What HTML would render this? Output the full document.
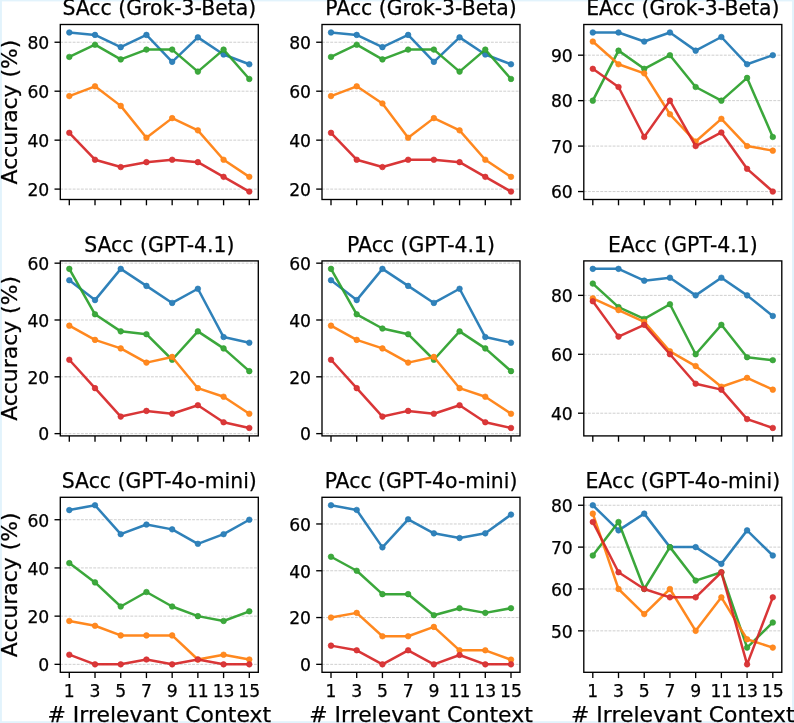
<!DOCTYPE html>
<html><head><meta charset="utf-8"><style>
html,body{margin:0;padding:0;background:#fff;width:794px;height:723px;overflow:hidden}
svg text{font-family:'DejaVu Sans', 'Liberation Sans', sans-serif;fill:#000;stroke:#000;stroke-width:0.25px}
</style></head><body>
<svg width="794" height="723" viewBox="0 0 794 723" style="position:absolute;left:0;top:0">
<rect width="794" height="723" fill="#fff"/>
<rect x="0" y="0" width="794" height="1.4" fill="#e2f3fc"/>
<rect x="0" y="0" width="1.9" height="723" fill="#e2f3fc"/>
<rect x="792" y="0" width="2" height="723" fill="#e2f3fc"/>
<rect x="0" y="721.2" width="794" height="1.8" fill="#e2f3fc"/>
<g><line x1="60.3" y1="189.1" x2="258.3" y2="189.1" stroke="#cfcfcf" stroke-width="1.0" stroke-dasharray="2.88 1.24"/><line x1="60.3" y1="140.15" x2="258.3" y2="140.15" stroke="#cfcfcf" stroke-width="1.0" stroke-dasharray="2.88 1.24"/><line x1="60.3" y1="91.2" x2="258.3" y2="91.2" stroke="#cfcfcf" stroke-width="1.0" stroke-dasharray="2.88 1.24"/><line x1="60.3" y1="42.24" x2="258.3" y2="42.24" stroke="#cfcfcf" stroke-width="1.0" stroke-dasharray="2.88 1.24"/><polyline points="69.3,32.45 95.01,34.9 120.73,47.14 146.44,34.9 172.16,61.83 197.87,37.35 223.59,54.48 249.3,64.27" fill="none" stroke="#1f77b4" stroke-opacity="0.93" stroke-width="2.5" stroke-linejoin="round" stroke-linecap="round"/><circle cx="69.3" cy="32.45" r="2.8000000000000003" fill="#3182ba" stroke="#1f77b4" stroke-width="0.6"/><circle cx="95.01" cy="34.9" r="2.8000000000000003" fill="#3182ba" stroke="#1f77b4" stroke-width="0.6"/><circle cx="120.73" cy="47.14" r="2.8000000000000003" fill="#3182ba" stroke="#1f77b4" stroke-width="0.6"/><circle cx="146.44" cy="34.9" r="2.8000000000000003" fill="#3182ba" stroke="#1f77b4" stroke-width="0.6"/><circle cx="172.16" cy="61.83" r="2.8000000000000003" fill="#3182ba" stroke="#1f77b4" stroke-width="0.6"/><circle cx="197.87" cy="37.35" r="2.8000000000000003" fill="#3182ba" stroke="#1f77b4" stroke-width="0.6"/><circle cx="223.59" cy="54.48" r="2.8000000000000003" fill="#3182ba" stroke="#1f77b4" stroke-width="0.6"/><circle cx="249.3" cy="64.27" r="2.8000000000000003" fill="#3182ba" stroke="#1f77b4" stroke-width="0.6"/><polyline points="69.3,56.93 95.01,44.69 120.73,59.38 146.44,49.59 172.16,49.59 197.87,71.62 223.59,49.59 249.3,78.96" fill="none" stroke="#2ca02c" stroke-opacity="0.93" stroke-width="2.5" stroke-linejoin="round" stroke-linecap="round"/><circle cx="69.3" cy="56.93" r="2.8000000000000003" fill="#3da83d" stroke="#2ca02c" stroke-width="0.6"/><circle cx="95.01" cy="44.69" r="2.8000000000000003" fill="#3da83d" stroke="#2ca02c" stroke-width="0.6"/><circle cx="120.73" cy="59.38" r="2.8000000000000003" fill="#3da83d" stroke="#2ca02c" stroke-width="0.6"/><circle cx="146.44" cy="49.59" r="2.8000000000000003" fill="#3da83d" stroke="#2ca02c" stroke-width="0.6"/><circle cx="172.16" cy="49.59" r="2.8000000000000003" fill="#3da83d" stroke="#2ca02c" stroke-width="0.6"/><circle cx="197.87" cy="71.62" r="2.8000000000000003" fill="#3da83d" stroke="#2ca02c" stroke-width="0.6"/><circle cx="223.59" cy="49.59" r="2.8000000000000003" fill="#3da83d" stroke="#2ca02c" stroke-width="0.6"/><circle cx="249.3" cy="78.96" r="2.8000000000000003" fill="#3da83d" stroke="#2ca02c" stroke-width="0.6"/><polyline points="69.3,96.09 95.01,86.3 120.73,105.88 146.44,137.7 172.16,118.12 197.87,130.36 223.59,159.73 249.3,176.86" fill="none" stroke="#ff7f0e" stroke-opacity="0.93" stroke-width="2.5" stroke-linejoin="round" stroke-linecap="round"/><circle cx="69.3" cy="96.09" r="2.8000000000000003" fill="#ff8921" stroke="#ff7f0e" stroke-width="0.6"/><circle cx="95.01" cy="86.3" r="2.8000000000000003" fill="#ff8921" stroke="#ff7f0e" stroke-width="0.6"/><circle cx="120.73" cy="105.88" r="2.8000000000000003" fill="#ff8921" stroke="#ff7f0e" stroke-width="0.6"/><circle cx="146.44" cy="137.7" r="2.8000000000000003" fill="#ff8921" stroke="#ff7f0e" stroke-width="0.6"/><circle cx="172.16" cy="118.12" r="2.8000000000000003" fill="#ff8921" stroke="#ff7f0e" stroke-width="0.6"/><circle cx="197.87" cy="130.36" r="2.8000000000000003" fill="#ff8921" stroke="#ff7f0e" stroke-width="0.6"/><circle cx="223.59" cy="159.73" r="2.8000000000000003" fill="#ff8921" stroke="#ff7f0e" stroke-width="0.6"/><circle cx="249.3" cy="176.86" r="2.8000000000000003" fill="#ff8921" stroke="#ff7f0e" stroke-width="0.6"/><polyline points="69.3,132.8 95.01,159.73 120.73,167.07 146.44,162.17 172.16,159.73 197.87,162.17 223.59,176.86 249.3,191.55" fill="none" stroke="#d62728" stroke-opacity="0.93" stroke-width="2.5" stroke-linejoin="round" stroke-linecap="round"/><circle cx="69.3" cy="132.8" r="2.8000000000000003" fill="#d93839" stroke="#d62728" stroke-width="0.6"/><circle cx="95.01" cy="159.73" r="2.8000000000000003" fill="#d93839" stroke="#d62728" stroke-width="0.6"/><circle cx="120.73" cy="167.07" r="2.8000000000000003" fill="#d93839" stroke="#d62728" stroke-width="0.6"/><circle cx="146.44" cy="162.17" r="2.8000000000000003" fill="#d93839" stroke="#d62728" stroke-width="0.6"/><circle cx="172.16" cy="159.73" r="2.8000000000000003" fill="#d93839" stroke="#d62728" stroke-width="0.6"/><circle cx="197.87" cy="162.17" r="2.8000000000000003" fill="#d93839" stroke="#d62728" stroke-width="0.6"/><circle cx="223.59" cy="176.86" r="2.8000000000000003" fill="#d93839" stroke="#d62728" stroke-width="0.6"/><circle cx="249.3" cy="191.55" r="2.8000000000000003" fill="#d93839" stroke="#d62728" stroke-width="0.6"/><rect x="60.3" y="24.5" width="198" height="175" fill="none" stroke="#000" stroke-width="1.35"/><line x1="54.5" y1="189.1" x2="60.3" y2="189.1" stroke="#000" stroke-width="1.35"/><text x="49.3" y="195.9" font-size="17.2" text-anchor="end">20</text><line x1="54.5" y1="140.15" x2="60.3" y2="140.15" stroke="#000" stroke-width="1.35"/><text x="49.3" y="146.95" font-size="17.2" text-anchor="end">40</text><line x1="54.5" y1="91.2" x2="60.3" y2="91.2" stroke="#000" stroke-width="1.35"/><text x="49.3" y="98" font-size="17.2" text-anchor="end">60</text><line x1="54.5" y1="42.24" x2="60.3" y2="42.24" stroke="#000" stroke-width="1.35"/><text x="49.3" y="49.04" font-size="17.2" text-anchor="end">80</text><line x1="69.3" y1="199.5" x2="69.3" y2="205.3" stroke="#000" stroke-width="1.35"/><line x1="95.01" y1="199.5" x2="95.01" y2="205.3" stroke="#000" stroke-width="1.35"/><line x1="120.73" y1="199.5" x2="120.73" y2="205.3" stroke="#000" stroke-width="1.35"/><line x1="146.44" y1="199.5" x2="146.44" y2="205.3" stroke="#000" stroke-width="1.35"/><line x1="172.16" y1="199.5" x2="172.16" y2="205.3" stroke="#000" stroke-width="1.35"/><line x1="197.87" y1="199.5" x2="197.87" y2="205.3" stroke="#000" stroke-width="1.35"/><line x1="223.59" y1="199.5" x2="223.59" y2="205.3" stroke="#000" stroke-width="1.35"/><line x1="249.3" y1="199.5" x2="249.3" y2="205.3" stroke="#000" stroke-width="1.35"/><text x="159.3" y="15.4" font-size="20.4" text-anchor="middle">SAcc (Grok-3-Beta)</text><text transform="translate(16.8,112) rotate(-90)" x="0" y="0" font-size="21.9" text-anchor="middle">Accuracy (%)</text></g>
<g><line x1="322" y1="189.1" x2="520" y2="189.1" stroke="#cfcfcf" stroke-width="1.0" stroke-dasharray="2.88 1.24"/><line x1="322" y1="140.15" x2="520" y2="140.15" stroke="#cfcfcf" stroke-width="1.0" stroke-dasharray="2.88 1.24"/><line x1="322" y1="91.2" x2="520" y2="91.2" stroke="#cfcfcf" stroke-width="1.0" stroke-dasharray="2.88 1.24"/><line x1="322" y1="42.24" x2="520" y2="42.24" stroke="#cfcfcf" stroke-width="1.0" stroke-dasharray="2.88 1.24"/><polyline points="331,32.45 356.71,34.9 382.43,47.14 408.14,34.9 433.86,61.83 459.57,37.35 485.29,54.48 511,64.27" fill="none" stroke="#1f77b4" stroke-opacity="0.93" stroke-width="2.5" stroke-linejoin="round" stroke-linecap="round"/><circle cx="331" cy="32.45" r="2.8000000000000003" fill="#3182ba" stroke="#1f77b4" stroke-width="0.6"/><circle cx="356.71" cy="34.9" r="2.8000000000000003" fill="#3182ba" stroke="#1f77b4" stroke-width="0.6"/><circle cx="382.43" cy="47.14" r="2.8000000000000003" fill="#3182ba" stroke="#1f77b4" stroke-width="0.6"/><circle cx="408.14" cy="34.9" r="2.8000000000000003" fill="#3182ba" stroke="#1f77b4" stroke-width="0.6"/><circle cx="433.86" cy="61.83" r="2.8000000000000003" fill="#3182ba" stroke="#1f77b4" stroke-width="0.6"/><circle cx="459.57" cy="37.35" r="2.8000000000000003" fill="#3182ba" stroke="#1f77b4" stroke-width="0.6"/><circle cx="485.29" cy="54.48" r="2.8000000000000003" fill="#3182ba" stroke="#1f77b4" stroke-width="0.6"/><circle cx="511" cy="64.27" r="2.8000000000000003" fill="#3182ba" stroke="#1f77b4" stroke-width="0.6"/><polyline points="331,56.93 356.71,44.69 382.43,59.38 408.14,49.59 433.86,49.59 459.57,71.62 485.29,49.59 511,78.96" fill="none" stroke="#2ca02c" stroke-opacity="0.93" stroke-width="2.5" stroke-linejoin="round" stroke-linecap="round"/><circle cx="331" cy="56.93" r="2.8000000000000003" fill="#3da83d" stroke="#2ca02c" stroke-width="0.6"/><circle cx="356.71" cy="44.69" r="2.8000000000000003" fill="#3da83d" stroke="#2ca02c" stroke-width="0.6"/><circle cx="382.43" cy="59.38" r="2.8000000000000003" fill="#3da83d" stroke="#2ca02c" stroke-width="0.6"/><circle cx="408.14" cy="49.59" r="2.8000000000000003" fill="#3da83d" stroke="#2ca02c" stroke-width="0.6"/><circle cx="433.86" cy="49.59" r="2.8000000000000003" fill="#3da83d" stroke="#2ca02c" stroke-width="0.6"/><circle cx="459.57" cy="71.62" r="2.8000000000000003" fill="#3da83d" stroke="#2ca02c" stroke-width="0.6"/><circle cx="485.29" cy="49.59" r="2.8000000000000003" fill="#3da83d" stroke="#2ca02c" stroke-width="0.6"/><circle cx="511" cy="78.96" r="2.8000000000000003" fill="#3da83d" stroke="#2ca02c" stroke-width="0.6"/><polyline points="331,96.09 356.71,86.3 382.43,103.43 408.14,137.7 433.86,118.12 459.57,130.36 485.29,159.73 511,176.86" fill="none" stroke="#ff7f0e" stroke-opacity="0.93" stroke-width="2.5" stroke-linejoin="round" stroke-linecap="round"/><circle cx="331" cy="96.09" r="2.8000000000000003" fill="#ff8921" stroke="#ff7f0e" stroke-width="0.6"/><circle cx="356.71" cy="86.3" r="2.8000000000000003" fill="#ff8921" stroke="#ff7f0e" stroke-width="0.6"/><circle cx="382.43" cy="103.43" r="2.8000000000000003" fill="#ff8921" stroke="#ff7f0e" stroke-width="0.6"/><circle cx="408.14" cy="137.7" r="2.8000000000000003" fill="#ff8921" stroke="#ff7f0e" stroke-width="0.6"/><circle cx="433.86" cy="118.12" r="2.8000000000000003" fill="#ff8921" stroke="#ff7f0e" stroke-width="0.6"/><circle cx="459.57" cy="130.36" r="2.8000000000000003" fill="#ff8921" stroke="#ff7f0e" stroke-width="0.6"/><circle cx="485.29" cy="159.73" r="2.8000000000000003" fill="#ff8921" stroke="#ff7f0e" stroke-width="0.6"/><circle cx="511" cy="176.86" r="2.8000000000000003" fill="#ff8921" stroke="#ff7f0e" stroke-width="0.6"/><polyline points="331,132.8 356.71,159.73 382.43,167.07 408.14,159.73 433.86,159.73 459.57,162.17 485.29,176.86 511,191.55" fill="none" stroke="#d62728" stroke-opacity="0.93" stroke-width="2.5" stroke-linejoin="round" stroke-linecap="round"/><circle cx="331" cy="132.8" r="2.8000000000000003" fill="#d93839" stroke="#d62728" stroke-width="0.6"/><circle cx="356.71" cy="159.73" r="2.8000000000000003" fill="#d93839" stroke="#d62728" stroke-width="0.6"/><circle cx="382.43" cy="167.07" r="2.8000000000000003" fill="#d93839" stroke="#d62728" stroke-width="0.6"/><circle cx="408.14" cy="159.73" r="2.8000000000000003" fill="#d93839" stroke="#d62728" stroke-width="0.6"/><circle cx="433.86" cy="159.73" r="2.8000000000000003" fill="#d93839" stroke="#d62728" stroke-width="0.6"/><circle cx="459.57" cy="162.17" r="2.8000000000000003" fill="#d93839" stroke="#d62728" stroke-width="0.6"/><circle cx="485.29" cy="176.86" r="2.8000000000000003" fill="#d93839" stroke="#d62728" stroke-width="0.6"/><circle cx="511" cy="191.55" r="2.8000000000000003" fill="#d93839" stroke="#d62728" stroke-width="0.6"/><rect x="322" y="24.5" width="198" height="175" fill="none" stroke="#000" stroke-width="1.35"/><line x1="316.2" y1="189.1" x2="322" y2="189.1" stroke="#000" stroke-width="1.35"/><text x="311" y="195.9" font-size="17.2" text-anchor="end">20</text><line x1="316.2" y1="140.15" x2="322" y2="140.15" stroke="#000" stroke-width="1.35"/><text x="311" y="146.95" font-size="17.2" text-anchor="end">40</text><line x1="316.2" y1="91.2" x2="322" y2="91.2" stroke="#000" stroke-width="1.35"/><text x="311" y="98" font-size="17.2" text-anchor="end">60</text><line x1="316.2" y1="42.24" x2="322" y2="42.24" stroke="#000" stroke-width="1.35"/><text x="311" y="49.04" font-size="17.2" text-anchor="end">80</text><line x1="331" y1="199.5" x2="331" y2="205.3" stroke="#000" stroke-width="1.35"/><line x1="356.71" y1="199.5" x2="356.71" y2="205.3" stroke="#000" stroke-width="1.35"/><line x1="382.43" y1="199.5" x2="382.43" y2="205.3" stroke="#000" stroke-width="1.35"/><line x1="408.14" y1="199.5" x2="408.14" y2="205.3" stroke="#000" stroke-width="1.35"/><line x1="433.86" y1="199.5" x2="433.86" y2="205.3" stroke="#000" stroke-width="1.35"/><line x1="459.57" y1="199.5" x2="459.57" y2="205.3" stroke="#000" stroke-width="1.35"/><line x1="485.29" y1="199.5" x2="485.29" y2="205.3" stroke="#000" stroke-width="1.35"/><line x1="511" y1="199.5" x2="511" y2="205.3" stroke="#000" stroke-width="1.35"/><text x="421" y="15.4" font-size="20.4" text-anchor="middle">PAcc (Grok-3-Beta)</text></g>
<g><line x1="583.8" y1="191.55" x2="781.8" y2="191.55" stroke="#cfcfcf" stroke-width="1.0" stroke-dasharray="2.88 1.24"/><line x1="583.8" y1="146.09" x2="781.8" y2="146.09" stroke="#cfcfcf" stroke-width="1.0" stroke-dasharray="2.88 1.24"/><line x1="583.8" y1="100.64" x2="781.8" y2="100.64" stroke="#cfcfcf" stroke-width="1.0" stroke-dasharray="2.88 1.24"/><line x1="583.8" y1="55.18" x2="781.8" y2="55.18" stroke="#cfcfcf" stroke-width="1.0" stroke-dasharray="2.88 1.24"/><polyline points="592.8,32.45 618.51,32.45 644.23,41.55 669.94,32.45 695.66,50.64 721.37,37 747.09,64.27 772.8,55.18" fill="none" stroke="#1f77b4" stroke-opacity="0.93" stroke-width="2.5" stroke-linejoin="round" stroke-linecap="round"/><circle cx="592.8" cy="32.45" r="2.8000000000000003" fill="#3182ba" stroke="#1f77b4" stroke-width="0.6"/><circle cx="618.51" cy="32.45" r="2.8000000000000003" fill="#3182ba" stroke="#1f77b4" stroke-width="0.6"/><circle cx="644.23" cy="41.55" r="2.8000000000000003" fill="#3182ba" stroke="#1f77b4" stroke-width="0.6"/><circle cx="669.94" cy="32.45" r="2.8000000000000003" fill="#3182ba" stroke="#1f77b4" stroke-width="0.6"/><circle cx="695.66" cy="50.64" r="2.8000000000000003" fill="#3182ba" stroke="#1f77b4" stroke-width="0.6"/><circle cx="721.37" cy="37" r="2.8000000000000003" fill="#3182ba" stroke="#1f77b4" stroke-width="0.6"/><circle cx="747.09" cy="64.27" r="2.8000000000000003" fill="#3182ba" stroke="#1f77b4" stroke-width="0.6"/><circle cx="772.8" cy="55.18" r="2.8000000000000003" fill="#3182ba" stroke="#1f77b4" stroke-width="0.6"/><polyline points="592.8,100.64 618.51,50.64 644.23,68.82 669.94,55.18 695.66,87 721.37,100.64 747.09,77.91 772.8,137" fill="none" stroke="#2ca02c" stroke-opacity="0.93" stroke-width="2.5" stroke-linejoin="round" stroke-linecap="round"/><circle cx="592.8" cy="100.64" r="2.8000000000000003" fill="#3da83d" stroke="#2ca02c" stroke-width="0.6"/><circle cx="618.51" cy="50.64" r="2.8000000000000003" fill="#3da83d" stroke="#2ca02c" stroke-width="0.6"/><circle cx="644.23" cy="68.82" r="2.8000000000000003" fill="#3da83d" stroke="#2ca02c" stroke-width="0.6"/><circle cx="669.94" cy="55.18" r="2.8000000000000003" fill="#3da83d" stroke="#2ca02c" stroke-width="0.6"/><circle cx="695.66" cy="87" r="2.8000000000000003" fill="#3da83d" stroke="#2ca02c" stroke-width="0.6"/><circle cx="721.37" cy="100.64" r="2.8000000000000003" fill="#3da83d" stroke="#2ca02c" stroke-width="0.6"/><circle cx="747.09" cy="77.91" r="2.8000000000000003" fill="#3da83d" stroke="#2ca02c" stroke-width="0.6"/><circle cx="772.8" cy="137" r="2.8000000000000003" fill="#3da83d" stroke="#2ca02c" stroke-width="0.6"/><polyline points="592.8,41.55 618.51,64.27 644.23,73.36 669.94,114.27 695.66,141.55 721.37,118.82 747.09,146.09 772.8,150.64" fill="none" stroke="#ff7f0e" stroke-opacity="0.93" stroke-width="2.5" stroke-linejoin="round" stroke-linecap="round"/><circle cx="592.8" cy="41.55" r="2.8000000000000003" fill="#ff8921" stroke="#ff7f0e" stroke-width="0.6"/><circle cx="618.51" cy="64.27" r="2.8000000000000003" fill="#ff8921" stroke="#ff7f0e" stroke-width="0.6"/><circle cx="644.23" cy="73.36" r="2.8000000000000003" fill="#ff8921" stroke="#ff7f0e" stroke-width="0.6"/><circle cx="669.94" cy="114.27" r="2.8000000000000003" fill="#ff8921" stroke="#ff7f0e" stroke-width="0.6"/><circle cx="695.66" cy="141.55" r="2.8000000000000003" fill="#ff8921" stroke="#ff7f0e" stroke-width="0.6"/><circle cx="721.37" cy="118.82" r="2.8000000000000003" fill="#ff8921" stroke="#ff7f0e" stroke-width="0.6"/><circle cx="747.09" cy="146.09" r="2.8000000000000003" fill="#ff8921" stroke="#ff7f0e" stroke-width="0.6"/><circle cx="772.8" cy="150.64" r="2.8000000000000003" fill="#ff8921" stroke="#ff7f0e" stroke-width="0.6"/><polyline points="592.8,68.82 618.51,87 644.23,137 669.94,100.64 695.66,146.09 721.37,132.45 747.09,168.82 772.8,191.55" fill="none" stroke="#d62728" stroke-opacity="0.93" stroke-width="2.5" stroke-linejoin="round" stroke-linecap="round"/><circle cx="592.8" cy="68.82" r="2.8000000000000003" fill="#d93839" stroke="#d62728" stroke-width="0.6"/><circle cx="618.51" cy="87" r="2.8000000000000003" fill="#d93839" stroke="#d62728" stroke-width="0.6"/><circle cx="644.23" cy="137" r="2.8000000000000003" fill="#d93839" stroke="#d62728" stroke-width="0.6"/><circle cx="669.94" cy="100.64" r="2.8000000000000003" fill="#d93839" stroke="#d62728" stroke-width="0.6"/><circle cx="695.66" cy="146.09" r="2.8000000000000003" fill="#d93839" stroke="#d62728" stroke-width="0.6"/><circle cx="721.37" cy="132.45" r="2.8000000000000003" fill="#d93839" stroke="#d62728" stroke-width="0.6"/><circle cx="747.09" cy="168.82" r="2.8000000000000003" fill="#d93839" stroke="#d62728" stroke-width="0.6"/><circle cx="772.8" cy="191.55" r="2.8000000000000003" fill="#d93839" stroke="#d62728" stroke-width="0.6"/><rect x="583.8" y="24.5" width="198" height="175" fill="none" stroke="#000" stroke-width="1.35"/><line x1="578" y1="191.55" x2="583.8" y2="191.55" stroke="#000" stroke-width="1.35"/><text x="572.8" y="198.35" font-size="17.2" text-anchor="end">60</text><line x1="578" y1="146.09" x2="583.8" y2="146.09" stroke="#000" stroke-width="1.35"/><text x="572.8" y="152.89" font-size="17.2" text-anchor="end">70</text><line x1="578" y1="100.64" x2="583.8" y2="100.64" stroke="#000" stroke-width="1.35"/><text x="572.8" y="107.44" font-size="17.2" text-anchor="end">80</text><line x1="578" y1="55.18" x2="583.8" y2="55.18" stroke="#000" stroke-width="1.35"/><text x="572.8" y="61.98" font-size="17.2" text-anchor="end">90</text><line x1="592.8" y1="199.5" x2="592.8" y2="205.3" stroke="#000" stroke-width="1.35"/><line x1="618.51" y1="199.5" x2="618.51" y2="205.3" stroke="#000" stroke-width="1.35"/><line x1="644.23" y1="199.5" x2="644.23" y2="205.3" stroke="#000" stroke-width="1.35"/><line x1="669.94" y1="199.5" x2="669.94" y2="205.3" stroke="#000" stroke-width="1.35"/><line x1="695.66" y1="199.5" x2="695.66" y2="205.3" stroke="#000" stroke-width="1.35"/><line x1="721.37" y1="199.5" x2="721.37" y2="205.3" stroke="#000" stroke-width="1.35"/><line x1="747.09" y1="199.5" x2="747.09" y2="205.3" stroke="#000" stroke-width="1.35"/><line x1="772.8" y1="199.5" x2="772.8" y2="205.3" stroke="#000" stroke-width="1.35"/><text x="682.8" y="15.4" font-size="20.4" text-anchor="middle">EAcc (Grok-3-Beta)</text></g>
<g><line x1="60.3" y1="433.63" x2="258.3" y2="433.63" stroke="#cfcfcf" stroke-width="1.0" stroke-dasharray="2.88 1.24"/><line x1="60.3" y1="376.81" x2="258.3" y2="376.81" stroke="#cfcfcf" stroke-width="1.0" stroke-dasharray="2.88 1.24"/><line x1="60.3" y1="319.99" x2="258.3" y2="319.99" stroke="#cfcfcf" stroke-width="1.0" stroke-dasharray="2.88 1.24"/><line x1="60.3" y1="263.17" x2="258.3" y2="263.17" stroke="#cfcfcf" stroke-width="1.0" stroke-dasharray="2.88 1.24"/><polyline points="69.3,280.22 95.01,300.1 120.73,268.85 146.44,285.9 172.16,302.95 197.87,288.74 223.59,337.04 249.3,342.72" fill="none" stroke="#1f77b4" stroke-opacity="0.93" stroke-width="2.5" stroke-linejoin="round" stroke-linecap="round"/><circle cx="69.3" cy="280.22" r="2.8000000000000003" fill="#3182ba" stroke="#1f77b4" stroke-width="0.6"/><circle cx="95.01" cy="300.1" r="2.8000000000000003" fill="#3182ba" stroke="#1f77b4" stroke-width="0.6"/><circle cx="120.73" cy="268.85" r="2.8000000000000003" fill="#3182ba" stroke="#1f77b4" stroke-width="0.6"/><circle cx="146.44" cy="285.9" r="2.8000000000000003" fill="#3182ba" stroke="#1f77b4" stroke-width="0.6"/><circle cx="172.16" cy="302.95" r="2.8000000000000003" fill="#3182ba" stroke="#1f77b4" stroke-width="0.6"/><circle cx="197.87" cy="288.74" r="2.8000000000000003" fill="#3182ba" stroke="#1f77b4" stroke-width="0.6"/><circle cx="223.59" cy="337.04" r="2.8000000000000003" fill="#3182ba" stroke="#1f77b4" stroke-width="0.6"/><circle cx="249.3" cy="342.72" r="2.8000000000000003" fill="#3182ba" stroke="#1f77b4" stroke-width="0.6"/><polyline points="69.3,268.85 95.01,314.31 120.73,331.35 146.44,334.2 172.16,359.76 197.87,331.35 223.59,348.4 249.3,371.13" fill="none" stroke="#2ca02c" stroke-opacity="0.93" stroke-width="2.5" stroke-linejoin="round" stroke-linecap="round"/><circle cx="69.3" cy="268.85" r="2.8000000000000003" fill="#3da83d" stroke="#2ca02c" stroke-width="0.6"/><circle cx="95.01" cy="314.31" r="2.8000000000000003" fill="#3da83d" stroke="#2ca02c" stroke-width="0.6"/><circle cx="120.73" cy="331.35" r="2.8000000000000003" fill="#3da83d" stroke="#2ca02c" stroke-width="0.6"/><circle cx="146.44" cy="334.2" r="2.8000000000000003" fill="#3da83d" stroke="#2ca02c" stroke-width="0.6"/><circle cx="172.16" cy="359.76" r="2.8000000000000003" fill="#3da83d" stroke="#2ca02c" stroke-width="0.6"/><circle cx="197.87" cy="331.35" r="2.8000000000000003" fill="#3da83d" stroke="#2ca02c" stroke-width="0.6"/><circle cx="223.59" cy="348.4" r="2.8000000000000003" fill="#3da83d" stroke="#2ca02c" stroke-width="0.6"/><circle cx="249.3" cy="371.13" r="2.8000000000000003" fill="#3da83d" stroke="#2ca02c" stroke-width="0.6"/><polyline points="69.3,325.67 95.01,339.88 120.73,348.4 146.44,362.6 172.16,356.92 197.87,388.17 223.59,396.7 249.3,413.74" fill="none" stroke="#ff7f0e" stroke-opacity="0.93" stroke-width="2.5" stroke-linejoin="round" stroke-linecap="round"/><circle cx="69.3" cy="325.67" r="2.8000000000000003" fill="#ff8921" stroke="#ff7f0e" stroke-width="0.6"/><circle cx="95.01" cy="339.88" r="2.8000000000000003" fill="#ff8921" stroke="#ff7f0e" stroke-width="0.6"/><circle cx="120.73" cy="348.4" r="2.8000000000000003" fill="#ff8921" stroke="#ff7f0e" stroke-width="0.6"/><circle cx="146.44" cy="362.6" r="2.8000000000000003" fill="#ff8921" stroke="#ff7f0e" stroke-width="0.6"/><circle cx="172.16" cy="356.92" r="2.8000000000000003" fill="#ff8921" stroke="#ff7f0e" stroke-width="0.6"/><circle cx="197.87" cy="388.17" r="2.8000000000000003" fill="#ff8921" stroke="#ff7f0e" stroke-width="0.6"/><circle cx="223.59" cy="396.7" r="2.8000000000000003" fill="#ff8921" stroke="#ff7f0e" stroke-width="0.6"/><circle cx="249.3" cy="413.74" r="2.8000000000000003" fill="#ff8921" stroke="#ff7f0e" stroke-width="0.6"/><polyline points="69.3,359.76 95.01,388.17 120.73,416.58 146.44,410.9 172.16,413.74 197.87,405.22 223.59,422.26 249.3,427.95" fill="none" stroke="#d62728" stroke-opacity="0.93" stroke-width="2.5" stroke-linejoin="round" stroke-linecap="round"/><circle cx="69.3" cy="359.76" r="2.8000000000000003" fill="#d93839" stroke="#d62728" stroke-width="0.6"/><circle cx="95.01" cy="388.17" r="2.8000000000000003" fill="#d93839" stroke="#d62728" stroke-width="0.6"/><circle cx="120.73" cy="416.58" r="2.8000000000000003" fill="#d93839" stroke="#d62728" stroke-width="0.6"/><circle cx="146.44" cy="410.9" r="2.8000000000000003" fill="#d93839" stroke="#d62728" stroke-width="0.6"/><circle cx="172.16" cy="413.74" r="2.8000000000000003" fill="#d93839" stroke="#d62728" stroke-width="0.6"/><circle cx="197.87" cy="405.22" r="2.8000000000000003" fill="#d93839" stroke="#d62728" stroke-width="0.6"/><circle cx="223.59" cy="422.26" r="2.8000000000000003" fill="#d93839" stroke="#d62728" stroke-width="0.6"/><circle cx="249.3" cy="427.95" r="2.8000000000000003" fill="#d93839" stroke="#d62728" stroke-width="0.6"/><rect x="60.3" y="260.9" width="198" height="175" fill="none" stroke="#000" stroke-width="1.35"/><line x1="54.5" y1="433.63" x2="60.3" y2="433.63" stroke="#000" stroke-width="1.35"/><text x="49.3" y="440.43" font-size="17.2" text-anchor="end">0</text><line x1="54.5" y1="376.81" x2="60.3" y2="376.81" stroke="#000" stroke-width="1.35"/><text x="49.3" y="383.61" font-size="17.2" text-anchor="end">20</text><line x1="54.5" y1="319.99" x2="60.3" y2="319.99" stroke="#000" stroke-width="1.35"/><text x="49.3" y="326.79" font-size="17.2" text-anchor="end">40</text><line x1="54.5" y1="263.17" x2="60.3" y2="263.17" stroke="#000" stroke-width="1.35"/><text x="49.3" y="269.97" font-size="17.2" text-anchor="end">60</text><line x1="69.3" y1="435.9" x2="69.3" y2="441.7" stroke="#000" stroke-width="1.35"/><line x1="95.01" y1="435.9" x2="95.01" y2="441.7" stroke="#000" stroke-width="1.35"/><line x1="120.73" y1="435.9" x2="120.73" y2="441.7" stroke="#000" stroke-width="1.35"/><line x1="146.44" y1="435.9" x2="146.44" y2="441.7" stroke="#000" stroke-width="1.35"/><line x1="172.16" y1="435.9" x2="172.16" y2="441.7" stroke="#000" stroke-width="1.35"/><line x1="197.87" y1="435.9" x2="197.87" y2="441.7" stroke="#000" stroke-width="1.35"/><line x1="223.59" y1="435.9" x2="223.59" y2="441.7" stroke="#000" stroke-width="1.35"/><line x1="249.3" y1="435.9" x2="249.3" y2="441.7" stroke="#000" stroke-width="1.35"/><text x="159.3" y="251.8" font-size="20.4" text-anchor="middle">SAcc (GPT-4.1)</text><text transform="translate(16.8,348.4) rotate(-90)" x="0" y="0" font-size="21.9" text-anchor="middle">Accuracy (%)</text></g>
<g><line x1="322" y1="433.63" x2="520" y2="433.63" stroke="#cfcfcf" stroke-width="1.0" stroke-dasharray="2.88 1.24"/><line x1="322" y1="376.81" x2="520" y2="376.81" stroke="#cfcfcf" stroke-width="1.0" stroke-dasharray="2.88 1.24"/><line x1="322" y1="319.99" x2="520" y2="319.99" stroke="#cfcfcf" stroke-width="1.0" stroke-dasharray="2.88 1.24"/><line x1="322" y1="263.17" x2="520" y2="263.17" stroke="#cfcfcf" stroke-width="1.0" stroke-dasharray="2.88 1.24"/><polyline points="331,280.22 356.71,300.1 382.43,268.85 408.14,285.9 433.86,302.95 459.57,288.74 485.29,337.04 511,342.72" fill="none" stroke="#1f77b4" stroke-opacity="0.93" stroke-width="2.5" stroke-linejoin="round" stroke-linecap="round"/><circle cx="331" cy="280.22" r="2.8000000000000003" fill="#3182ba" stroke="#1f77b4" stroke-width="0.6"/><circle cx="356.71" cy="300.1" r="2.8000000000000003" fill="#3182ba" stroke="#1f77b4" stroke-width="0.6"/><circle cx="382.43" cy="268.85" r="2.8000000000000003" fill="#3182ba" stroke="#1f77b4" stroke-width="0.6"/><circle cx="408.14" cy="285.9" r="2.8000000000000003" fill="#3182ba" stroke="#1f77b4" stroke-width="0.6"/><circle cx="433.86" cy="302.95" r="2.8000000000000003" fill="#3182ba" stroke="#1f77b4" stroke-width="0.6"/><circle cx="459.57" cy="288.74" r="2.8000000000000003" fill="#3182ba" stroke="#1f77b4" stroke-width="0.6"/><circle cx="485.29" cy="337.04" r="2.8000000000000003" fill="#3182ba" stroke="#1f77b4" stroke-width="0.6"/><circle cx="511" cy="342.72" r="2.8000000000000003" fill="#3182ba" stroke="#1f77b4" stroke-width="0.6"/><polyline points="331,268.85 356.71,314.31 382.43,328.51 408.14,334.2 433.86,359.76 459.57,331.35 485.29,348.4 511,371.13" fill="none" stroke="#2ca02c" stroke-opacity="0.93" stroke-width="2.5" stroke-linejoin="round" stroke-linecap="round"/><circle cx="331" cy="268.85" r="2.8000000000000003" fill="#3da83d" stroke="#2ca02c" stroke-width="0.6"/><circle cx="356.71" cy="314.31" r="2.8000000000000003" fill="#3da83d" stroke="#2ca02c" stroke-width="0.6"/><circle cx="382.43" cy="328.51" r="2.8000000000000003" fill="#3da83d" stroke="#2ca02c" stroke-width="0.6"/><circle cx="408.14" cy="334.2" r="2.8000000000000003" fill="#3da83d" stroke="#2ca02c" stroke-width="0.6"/><circle cx="433.86" cy="359.76" r="2.8000000000000003" fill="#3da83d" stroke="#2ca02c" stroke-width="0.6"/><circle cx="459.57" cy="331.35" r="2.8000000000000003" fill="#3da83d" stroke="#2ca02c" stroke-width="0.6"/><circle cx="485.29" cy="348.4" r="2.8000000000000003" fill="#3da83d" stroke="#2ca02c" stroke-width="0.6"/><circle cx="511" cy="371.13" r="2.8000000000000003" fill="#3da83d" stroke="#2ca02c" stroke-width="0.6"/><polyline points="331,325.67 356.71,339.88 382.43,348.4 408.14,362.6 433.86,356.92 459.57,388.17 485.29,396.7 511,413.74" fill="none" stroke="#ff7f0e" stroke-opacity="0.93" stroke-width="2.5" stroke-linejoin="round" stroke-linecap="round"/><circle cx="331" cy="325.67" r="2.8000000000000003" fill="#ff8921" stroke="#ff7f0e" stroke-width="0.6"/><circle cx="356.71" cy="339.88" r="2.8000000000000003" fill="#ff8921" stroke="#ff7f0e" stroke-width="0.6"/><circle cx="382.43" cy="348.4" r="2.8000000000000003" fill="#ff8921" stroke="#ff7f0e" stroke-width="0.6"/><circle cx="408.14" cy="362.6" r="2.8000000000000003" fill="#ff8921" stroke="#ff7f0e" stroke-width="0.6"/><circle cx="433.86" cy="356.92" r="2.8000000000000003" fill="#ff8921" stroke="#ff7f0e" stroke-width="0.6"/><circle cx="459.57" cy="388.17" r="2.8000000000000003" fill="#ff8921" stroke="#ff7f0e" stroke-width="0.6"/><circle cx="485.29" cy="396.7" r="2.8000000000000003" fill="#ff8921" stroke="#ff7f0e" stroke-width="0.6"/><circle cx="511" cy="413.74" r="2.8000000000000003" fill="#ff8921" stroke="#ff7f0e" stroke-width="0.6"/><polyline points="331,359.76 356.71,388.17 382.43,416.58 408.14,410.9 433.86,413.74 459.57,405.22 485.29,422.26 511,427.95" fill="none" stroke="#d62728" stroke-opacity="0.93" stroke-width="2.5" stroke-linejoin="round" stroke-linecap="round"/><circle cx="331" cy="359.76" r="2.8000000000000003" fill="#d93839" stroke="#d62728" stroke-width="0.6"/><circle cx="356.71" cy="388.17" r="2.8000000000000003" fill="#d93839" stroke="#d62728" stroke-width="0.6"/><circle cx="382.43" cy="416.58" r="2.8000000000000003" fill="#d93839" stroke="#d62728" stroke-width="0.6"/><circle cx="408.14" cy="410.9" r="2.8000000000000003" fill="#d93839" stroke="#d62728" stroke-width="0.6"/><circle cx="433.86" cy="413.74" r="2.8000000000000003" fill="#d93839" stroke="#d62728" stroke-width="0.6"/><circle cx="459.57" cy="405.22" r="2.8000000000000003" fill="#d93839" stroke="#d62728" stroke-width="0.6"/><circle cx="485.29" cy="422.26" r="2.8000000000000003" fill="#d93839" stroke="#d62728" stroke-width="0.6"/><circle cx="511" cy="427.95" r="2.8000000000000003" fill="#d93839" stroke="#d62728" stroke-width="0.6"/><rect x="322" y="260.9" width="198" height="175" fill="none" stroke="#000" stroke-width="1.35"/><line x1="316.2" y1="433.63" x2="322" y2="433.63" stroke="#000" stroke-width="1.35"/><text x="311" y="440.43" font-size="17.2" text-anchor="end">0</text><line x1="316.2" y1="376.81" x2="322" y2="376.81" stroke="#000" stroke-width="1.35"/><text x="311" y="383.61" font-size="17.2" text-anchor="end">20</text><line x1="316.2" y1="319.99" x2="322" y2="319.99" stroke="#000" stroke-width="1.35"/><text x="311" y="326.79" font-size="17.2" text-anchor="end">40</text><line x1="316.2" y1="263.17" x2="322" y2="263.17" stroke="#000" stroke-width="1.35"/><text x="311" y="269.97" font-size="17.2" text-anchor="end">60</text><line x1="331" y1="435.9" x2="331" y2="441.7" stroke="#000" stroke-width="1.35"/><line x1="356.71" y1="435.9" x2="356.71" y2="441.7" stroke="#000" stroke-width="1.35"/><line x1="382.43" y1="435.9" x2="382.43" y2="441.7" stroke="#000" stroke-width="1.35"/><line x1="408.14" y1="435.9" x2="408.14" y2="441.7" stroke="#000" stroke-width="1.35"/><line x1="433.86" y1="435.9" x2="433.86" y2="441.7" stroke="#000" stroke-width="1.35"/><line x1="459.57" y1="435.9" x2="459.57" y2="441.7" stroke="#000" stroke-width="1.35"/><line x1="485.29" y1="435.9" x2="485.29" y2="441.7" stroke="#000" stroke-width="1.35"/><line x1="511" y1="435.9" x2="511" y2="441.7" stroke="#000" stroke-width="1.35"/><text x="421" y="251.8" font-size="20.4" text-anchor="middle">PAcc (GPT-4.1)</text></g>
<g><line x1="583.8" y1="413.21" x2="781.8" y2="413.21" stroke="#cfcfcf" stroke-width="1.0" stroke-dasharray="2.88 1.24"/><line x1="583.8" y1="354.29" x2="781.8" y2="354.29" stroke="#cfcfcf" stroke-width="1.0" stroke-dasharray="2.88 1.24"/><line x1="583.8" y1="295.37" x2="781.8" y2="295.37" stroke="#cfcfcf" stroke-width="1.0" stroke-dasharray="2.88 1.24"/><polyline points="592.8,268.85 618.51,268.85 644.23,280.64 669.94,277.69 695.66,295.37 721.37,277.69 747.09,295.37 772.8,315.99" fill="none" stroke="#1f77b4" stroke-opacity="0.93" stroke-width="2.5" stroke-linejoin="round" stroke-linecap="round"/><circle cx="592.8" cy="268.85" r="2.8000000000000003" fill="#3182ba" stroke="#1f77b4" stroke-width="0.6"/><circle cx="618.51" cy="268.85" r="2.8000000000000003" fill="#3182ba" stroke="#1f77b4" stroke-width="0.6"/><circle cx="644.23" cy="280.64" r="2.8000000000000003" fill="#3182ba" stroke="#1f77b4" stroke-width="0.6"/><circle cx="669.94" cy="277.69" r="2.8000000000000003" fill="#3182ba" stroke="#1f77b4" stroke-width="0.6"/><circle cx="695.66" cy="295.37" r="2.8000000000000003" fill="#3182ba" stroke="#1f77b4" stroke-width="0.6"/><circle cx="721.37" cy="277.69" r="2.8000000000000003" fill="#3182ba" stroke="#1f77b4" stroke-width="0.6"/><circle cx="747.09" cy="295.37" r="2.8000000000000003" fill="#3182ba" stroke="#1f77b4" stroke-width="0.6"/><circle cx="772.8" cy="315.99" r="2.8000000000000003" fill="#3182ba" stroke="#1f77b4" stroke-width="0.6"/><polyline points="592.8,283.59 618.51,307.15 644.23,318.94 669.94,304.21 695.66,354.29 721.37,324.83 747.09,357.24 772.8,360.18" fill="none" stroke="#2ca02c" stroke-opacity="0.93" stroke-width="2.5" stroke-linejoin="round" stroke-linecap="round"/><circle cx="592.8" cy="283.59" r="2.8000000000000003" fill="#3da83d" stroke="#2ca02c" stroke-width="0.6"/><circle cx="618.51" cy="307.15" r="2.8000000000000003" fill="#3da83d" stroke="#2ca02c" stroke-width="0.6"/><circle cx="644.23" cy="318.94" r="2.8000000000000003" fill="#3da83d" stroke="#2ca02c" stroke-width="0.6"/><circle cx="669.94" cy="304.21" r="2.8000000000000003" fill="#3da83d" stroke="#2ca02c" stroke-width="0.6"/><circle cx="695.66" cy="354.29" r="2.8000000000000003" fill="#3da83d" stroke="#2ca02c" stroke-width="0.6"/><circle cx="721.37" cy="324.83" r="2.8000000000000003" fill="#3da83d" stroke="#2ca02c" stroke-width="0.6"/><circle cx="747.09" cy="357.24" r="2.8000000000000003" fill="#3da83d" stroke="#2ca02c" stroke-width="0.6"/><circle cx="772.8" cy="360.18" r="2.8000000000000003" fill="#3da83d" stroke="#2ca02c" stroke-width="0.6"/><polyline points="592.8,298.32 618.51,310.1 644.23,321.88 669.94,351.35 695.66,366.08 721.37,386.7 747.09,377.86 772.8,389.65" fill="none" stroke="#ff7f0e" stroke-opacity="0.93" stroke-width="2.5" stroke-linejoin="round" stroke-linecap="round"/><circle cx="592.8" cy="298.32" r="2.8000000000000003" fill="#ff8921" stroke="#ff7f0e" stroke-width="0.6"/><circle cx="618.51" cy="310.1" r="2.8000000000000003" fill="#ff8921" stroke="#ff7f0e" stroke-width="0.6"/><circle cx="644.23" cy="321.88" r="2.8000000000000003" fill="#ff8921" stroke="#ff7f0e" stroke-width="0.6"/><circle cx="669.94" cy="351.35" r="2.8000000000000003" fill="#ff8921" stroke="#ff7f0e" stroke-width="0.6"/><circle cx="695.66" cy="366.08" r="2.8000000000000003" fill="#ff8921" stroke="#ff7f0e" stroke-width="0.6"/><circle cx="721.37" cy="386.7" r="2.8000000000000003" fill="#ff8921" stroke="#ff7f0e" stroke-width="0.6"/><circle cx="747.09" cy="377.86" r="2.8000000000000003" fill="#ff8921" stroke="#ff7f0e" stroke-width="0.6"/><circle cx="772.8" cy="389.65" r="2.8000000000000003" fill="#ff8921" stroke="#ff7f0e" stroke-width="0.6"/><polyline points="592.8,301.26 618.51,336.62 644.23,324.83 669.94,354.29 695.66,383.75 721.37,389.65 747.09,419.11 772.8,427.95" fill="none" stroke="#d62728" stroke-opacity="0.93" stroke-width="2.5" stroke-linejoin="round" stroke-linecap="round"/><circle cx="592.8" cy="301.26" r="2.8000000000000003" fill="#d93839" stroke="#d62728" stroke-width="0.6"/><circle cx="618.51" cy="336.62" r="2.8000000000000003" fill="#d93839" stroke="#d62728" stroke-width="0.6"/><circle cx="644.23" cy="324.83" r="2.8000000000000003" fill="#d93839" stroke="#d62728" stroke-width="0.6"/><circle cx="669.94" cy="354.29" r="2.8000000000000003" fill="#d93839" stroke="#d62728" stroke-width="0.6"/><circle cx="695.66" cy="383.75" r="2.8000000000000003" fill="#d93839" stroke="#d62728" stroke-width="0.6"/><circle cx="721.37" cy="389.65" r="2.8000000000000003" fill="#d93839" stroke="#d62728" stroke-width="0.6"/><circle cx="747.09" cy="419.11" r="2.8000000000000003" fill="#d93839" stroke="#d62728" stroke-width="0.6"/><circle cx="772.8" cy="427.95" r="2.8000000000000003" fill="#d93839" stroke="#d62728" stroke-width="0.6"/><rect x="583.8" y="260.9" width="198" height="175" fill="none" stroke="#000" stroke-width="1.35"/><line x1="578" y1="413.21" x2="583.8" y2="413.21" stroke="#000" stroke-width="1.35"/><text x="572.8" y="420.01" font-size="17.2" text-anchor="end">40</text><line x1="578" y1="354.29" x2="583.8" y2="354.29" stroke="#000" stroke-width="1.35"/><text x="572.8" y="361.09" font-size="17.2" text-anchor="end">60</text><line x1="578" y1="295.37" x2="583.8" y2="295.37" stroke="#000" stroke-width="1.35"/><text x="572.8" y="302.17" font-size="17.2" text-anchor="end">80</text><line x1="592.8" y1="435.9" x2="592.8" y2="441.7" stroke="#000" stroke-width="1.35"/><line x1="618.51" y1="435.9" x2="618.51" y2="441.7" stroke="#000" stroke-width="1.35"/><line x1="644.23" y1="435.9" x2="644.23" y2="441.7" stroke="#000" stroke-width="1.35"/><line x1="669.94" y1="435.9" x2="669.94" y2="441.7" stroke="#000" stroke-width="1.35"/><line x1="695.66" y1="435.9" x2="695.66" y2="441.7" stroke="#000" stroke-width="1.35"/><line x1="721.37" y1="435.9" x2="721.37" y2="441.7" stroke="#000" stroke-width="1.35"/><line x1="747.09" y1="435.9" x2="747.09" y2="441.7" stroke="#000" stroke-width="1.35"/><line x1="772.8" y1="435.9" x2="772.8" y2="441.7" stroke="#000" stroke-width="1.35"/><text x="682.8" y="251.8" font-size="20.4" text-anchor="middle">EAcc (GPT-4.1)</text></g>
<g><line x1="60.3" y1="664.35" x2="258.3" y2="664.35" stroke="#cfcfcf" stroke-width="1.0" stroke-dasharray="2.88 1.24"/><line x1="60.3" y1="616.14" x2="258.3" y2="616.14" stroke="#cfcfcf" stroke-width="1.0" stroke-dasharray="2.88 1.24"/><line x1="60.3" y1="567.93" x2="258.3" y2="567.93" stroke="#cfcfcf" stroke-width="1.0" stroke-dasharray="2.88 1.24"/><line x1="60.3" y1="519.72" x2="258.3" y2="519.72" stroke="#cfcfcf" stroke-width="1.0" stroke-dasharray="2.88 1.24"/><polyline points="69.3,510.08 95.01,505.25 120.73,534.18 146.44,524.54 172.16,529.36 197.87,543.82 223.59,534.18 249.3,519.72" fill="none" stroke="#1f77b4" stroke-opacity="0.93" stroke-width="2.5" stroke-linejoin="round" stroke-linecap="round"/><circle cx="69.3" cy="510.08" r="2.8000000000000003" fill="#3182ba" stroke="#1f77b4" stroke-width="0.6"/><circle cx="95.01" cy="505.25" r="2.8000000000000003" fill="#3182ba" stroke="#1f77b4" stroke-width="0.6"/><circle cx="120.73" cy="534.18" r="2.8000000000000003" fill="#3182ba" stroke="#1f77b4" stroke-width="0.6"/><circle cx="146.44" cy="524.54" r="2.8000000000000003" fill="#3182ba" stroke="#1f77b4" stroke-width="0.6"/><circle cx="172.16" cy="529.36" r="2.8000000000000003" fill="#3182ba" stroke="#1f77b4" stroke-width="0.6"/><circle cx="197.87" cy="543.82" r="2.8000000000000003" fill="#3182ba" stroke="#1f77b4" stroke-width="0.6"/><circle cx="223.59" cy="534.18" r="2.8000000000000003" fill="#3182ba" stroke="#1f77b4" stroke-width="0.6"/><circle cx="249.3" cy="519.72" r="2.8000000000000003" fill="#3182ba" stroke="#1f77b4" stroke-width="0.6"/><polyline points="69.3,563.11 95.01,582.39 120.73,606.49 146.44,592.03 172.16,606.49 197.87,616.14 223.59,620.96 249.3,611.32" fill="none" stroke="#2ca02c" stroke-opacity="0.93" stroke-width="2.5" stroke-linejoin="round" stroke-linecap="round"/><circle cx="69.3" cy="563.11" r="2.8000000000000003" fill="#3da83d" stroke="#2ca02c" stroke-width="0.6"/><circle cx="95.01" cy="582.39" r="2.8000000000000003" fill="#3da83d" stroke="#2ca02c" stroke-width="0.6"/><circle cx="120.73" cy="606.49" r="2.8000000000000003" fill="#3da83d" stroke="#2ca02c" stroke-width="0.6"/><circle cx="146.44" cy="592.03" r="2.8000000000000003" fill="#3da83d" stroke="#2ca02c" stroke-width="0.6"/><circle cx="172.16" cy="606.49" r="2.8000000000000003" fill="#3da83d" stroke="#2ca02c" stroke-width="0.6"/><circle cx="197.87" cy="616.14" r="2.8000000000000003" fill="#3da83d" stroke="#2ca02c" stroke-width="0.6"/><circle cx="223.59" cy="620.96" r="2.8000000000000003" fill="#3da83d" stroke="#2ca02c" stroke-width="0.6"/><circle cx="249.3" cy="611.32" r="2.8000000000000003" fill="#3da83d" stroke="#2ca02c" stroke-width="0.6"/><polyline points="69.3,620.96 95.01,625.78 120.73,635.42 146.44,635.42 172.16,635.42 197.87,659.52 223.59,654.7 249.3,659.52" fill="none" stroke="#ff7f0e" stroke-opacity="0.93" stroke-width="2.5" stroke-linejoin="round" stroke-linecap="round"/><circle cx="69.3" cy="620.96" r="2.8000000000000003" fill="#ff8921" stroke="#ff7f0e" stroke-width="0.6"/><circle cx="95.01" cy="625.78" r="2.8000000000000003" fill="#ff8921" stroke="#ff7f0e" stroke-width="0.6"/><circle cx="120.73" cy="635.42" r="2.8000000000000003" fill="#ff8921" stroke="#ff7f0e" stroke-width="0.6"/><circle cx="146.44" cy="635.42" r="2.8000000000000003" fill="#ff8921" stroke="#ff7f0e" stroke-width="0.6"/><circle cx="172.16" cy="635.42" r="2.8000000000000003" fill="#ff8921" stroke="#ff7f0e" stroke-width="0.6"/><circle cx="197.87" cy="659.52" r="2.8000000000000003" fill="#ff8921" stroke="#ff7f0e" stroke-width="0.6"/><circle cx="223.59" cy="654.7" r="2.8000000000000003" fill="#ff8921" stroke="#ff7f0e" stroke-width="0.6"/><circle cx="249.3" cy="659.52" r="2.8000000000000003" fill="#ff8921" stroke="#ff7f0e" stroke-width="0.6"/><polyline points="69.3,654.7 95.01,664.35 120.73,664.35 146.44,659.52 172.16,664.35 197.87,659.52 223.59,664.35 249.3,664.35" fill="none" stroke="#d62728" stroke-opacity="0.93" stroke-width="2.5" stroke-linejoin="round" stroke-linecap="round"/><circle cx="69.3" cy="654.7" r="2.8000000000000003" fill="#d93839" stroke="#d62728" stroke-width="0.6"/><circle cx="95.01" cy="664.35" r="2.8000000000000003" fill="#d93839" stroke="#d62728" stroke-width="0.6"/><circle cx="120.73" cy="664.35" r="2.8000000000000003" fill="#d93839" stroke="#d62728" stroke-width="0.6"/><circle cx="146.44" cy="659.52" r="2.8000000000000003" fill="#d93839" stroke="#d62728" stroke-width="0.6"/><circle cx="172.16" cy="664.35" r="2.8000000000000003" fill="#d93839" stroke="#d62728" stroke-width="0.6"/><circle cx="197.87" cy="659.52" r="2.8000000000000003" fill="#d93839" stroke="#d62728" stroke-width="0.6"/><circle cx="223.59" cy="664.35" r="2.8000000000000003" fill="#d93839" stroke="#d62728" stroke-width="0.6"/><circle cx="249.3" cy="664.35" r="2.8000000000000003" fill="#d93839" stroke="#d62728" stroke-width="0.6"/><rect x="60.3" y="497.3" width="198" height="175" fill="none" stroke="#000" stroke-width="1.35"/><line x1="54.5" y1="664.35" x2="60.3" y2="664.35" stroke="#000" stroke-width="1.35"/><text x="49.3" y="671.15" font-size="17.2" text-anchor="end">0</text><line x1="54.5" y1="616.14" x2="60.3" y2="616.14" stroke="#000" stroke-width="1.35"/><text x="49.3" y="622.94" font-size="17.2" text-anchor="end">20</text><line x1="54.5" y1="567.93" x2="60.3" y2="567.93" stroke="#000" stroke-width="1.35"/><text x="49.3" y="574.73" font-size="17.2" text-anchor="end">40</text><line x1="54.5" y1="519.72" x2="60.3" y2="519.72" stroke="#000" stroke-width="1.35"/><text x="49.3" y="526.52" font-size="17.2" text-anchor="end">60</text><line x1="69.3" y1="672.3" x2="69.3" y2="678.1" stroke="#000" stroke-width="1.35"/><text x="69.3" y="696.5" font-size="17.2" text-anchor="middle">1</text><line x1="95.01" y1="672.3" x2="95.01" y2="678.1" stroke="#000" stroke-width="1.35"/><text x="95.01" y="696.5" font-size="17.2" text-anchor="middle">3</text><line x1="120.73" y1="672.3" x2="120.73" y2="678.1" stroke="#000" stroke-width="1.35"/><text x="120.73" y="696.5" font-size="17.2" text-anchor="middle">5</text><line x1="146.44" y1="672.3" x2="146.44" y2="678.1" stroke="#000" stroke-width="1.35"/><text x="146.44" y="696.5" font-size="17.2" text-anchor="middle">7</text><line x1="172.16" y1="672.3" x2="172.16" y2="678.1" stroke="#000" stroke-width="1.35"/><text x="172.16" y="696.5" font-size="17.2" text-anchor="middle">9</text><line x1="197.87" y1="672.3" x2="197.87" y2="678.1" stroke="#000" stroke-width="1.35"/><text x="197.87" y="696.5" font-size="17.2" text-anchor="middle">11</text><line x1="223.59" y1="672.3" x2="223.59" y2="678.1" stroke="#000" stroke-width="1.35"/><text x="223.59" y="696.5" font-size="17.2" text-anchor="middle">13</text><line x1="249.3" y1="672.3" x2="249.3" y2="678.1" stroke="#000" stroke-width="1.35"/><text x="249.3" y="696.5" font-size="17.2" text-anchor="middle">15</text><text x="159.3" y="722.3" font-size="21.9" text-anchor="middle"># Irrelevant Context</text><text x="159.3" y="488.2" font-size="20.4" text-anchor="middle">SAcc (GPT-4o-mini)</text><text transform="translate(16.8,584.8) rotate(-90)" x="0" y="0" font-size="21.9" text-anchor="middle">Accuracy (%)</text></g>
<g><line x1="322" y1="664.35" x2="520" y2="664.35" stroke="#cfcfcf" stroke-width="1.0" stroke-dasharray="2.88 1.24"/><line x1="322" y1="617.55" x2="520" y2="617.55" stroke="#cfcfcf" stroke-width="1.0" stroke-dasharray="2.88 1.24"/><line x1="322" y1="570.76" x2="520" y2="570.76" stroke="#cfcfcf" stroke-width="1.0" stroke-dasharray="2.88 1.24"/><line x1="322" y1="523.97" x2="520" y2="523.97" stroke="#cfcfcf" stroke-width="1.0" stroke-dasharray="2.88 1.24"/><polyline points="331,505.25 356.71,509.93 382.43,547.37 408.14,519.29 433.86,533.33 459.57,538.01 485.29,533.33 511,514.61" fill="none" stroke="#1f77b4" stroke-opacity="0.93" stroke-width="2.5" stroke-linejoin="round" stroke-linecap="round"/><circle cx="331" cy="505.25" r="2.8000000000000003" fill="#3182ba" stroke="#1f77b4" stroke-width="0.6"/><circle cx="356.71" cy="509.93" r="2.8000000000000003" fill="#3182ba" stroke="#1f77b4" stroke-width="0.6"/><circle cx="382.43" cy="547.37" r="2.8000000000000003" fill="#3182ba" stroke="#1f77b4" stroke-width="0.6"/><circle cx="408.14" cy="519.29" r="2.8000000000000003" fill="#3182ba" stroke="#1f77b4" stroke-width="0.6"/><circle cx="433.86" cy="533.33" r="2.8000000000000003" fill="#3182ba" stroke="#1f77b4" stroke-width="0.6"/><circle cx="459.57" cy="538.01" r="2.8000000000000003" fill="#3182ba" stroke="#1f77b4" stroke-width="0.6"/><circle cx="485.29" cy="533.33" r="2.8000000000000003" fill="#3182ba" stroke="#1f77b4" stroke-width="0.6"/><circle cx="511" cy="514.61" r="2.8000000000000003" fill="#3182ba" stroke="#1f77b4" stroke-width="0.6"/><polyline points="331,556.73 356.71,570.76 382.43,594.16 408.14,594.16 433.86,615.21 459.57,608.2 485.29,612.87 511,608.2" fill="none" stroke="#2ca02c" stroke-opacity="0.93" stroke-width="2.5" stroke-linejoin="round" stroke-linecap="round"/><circle cx="331" cy="556.73" r="2.8000000000000003" fill="#3da83d" stroke="#2ca02c" stroke-width="0.6"/><circle cx="356.71" cy="570.76" r="2.8000000000000003" fill="#3da83d" stroke="#2ca02c" stroke-width="0.6"/><circle cx="382.43" cy="594.16" r="2.8000000000000003" fill="#3da83d" stroke="#2ca02c" stroke-width="0.6"/><circle cx="408.14" cy="594.16" r="2.8000000000000003" fill="#3da83d" stroke="#2ca02c" stroke-width="0.6"/><circle cx="433.86" cy="615.21" r="2.8000000000000003" fill="#3da83d" stroke="#2ca02c" stroke-width="0.6"/><circle cx="459.57" cy="608.2" r="2.8000000000000003" fill="#3da83d" stroke="#2ca02c" stroke-width="0.6"/><circle cx="485.29" cy="612.87" r="2.8000000000000003" fill="#3da83d" stroke="#2ca02c" stroke-width="0.6"/><circle cx="511" cy="608.2" r="2.8000000000000003" fill="#3da83d" stroke="#2ca02c" stroke-width="0.6"/><polyline points="331,617.55 356.71,612.87 382.43,636.27 408.14,636.27 433.86,626.91 459.57,650.31 485.29,650.31 511,659.67" fill="none" stroke="#ff7f0e" stroke-opacity="0.93" stroke-width="2.5" stroke-linejoin="round" stroke-linecap="round"/><circle cx="331" cy="617.55" r="2.8000000000000003" fill="#ff8921" stroke="#ff7f0e" stroke-width="0.6"/><circle cx="356.71" cy="612.87" r="2.8000000000000003" fill="#ff8921" stroke="#ff7f0e" stroke-width="0.6"/><circle cx="382.43" cy="636.27" r="2.8000000000000003" fill="#ff8921" stroke="#ff7f0e" stroke-width="0.6"/><circle cx="408.14" cy="636.27" r="2.8000000000000003" fill="#ff8921" stroke="#ff7f0e" stroke-width="0.6"/><circle cx="433.86" cy="626.91" r="2.8000000000000003" fill="#ff8921" stroke="#ff7f0e" stroke-width="0.6"/><circle cx="459.57" cy="650.31" r="2.8000000000000003" fill="#ff8921" stroke="#ff7f0e" stroke-width="0.6"/><circle cx="485.29" cy="650.31" r="2.8000000000000003" fill="#ff8921" stroke="#ff7f0e" stroke-width="0.6"/><circle cx="511" cy="659.67" r="2.8000000000000003" fill="#ff8921" stroke="#ff7f0e" stroke-width="0.6"/><polyline points="331,645.63 356.71,650.31 382.43,664.35 408.14,650.31 433.86,664.35 459.57,654.99 485.29,664.35 511,664.35" fill="none" stroke="#d62728" stroke-opacity="0.93" stroke-width="2.5" stroke-linejoin="round" stroke-linecap="round"/><circle cx="331" cy="645.63" r="2.8000000000000003" fill="#d93839" stroke="#d62728" stroke-width="0.6"/><circle cx="356.71" cy="650.31" r="2.8000000000000003" fill="#d93839" stroke="#d62728" stroke-width="0.6"/><circle cx="382.43" cy="664.35" r="2.8000000000000003" fill="#d93839" stroke="#d62728" stroke-width="0.6"/><circle cx="408.14" cy="650.31" r="2.8000000000000003" fill="#d93839" stroke="#d62728" stroke-width="0.6"/><circle cx="433.86" cy="664.35" r="2.8000000000000003" fill="#d93839" stroke="#d62728" stroke-width="0.6"/><circle cx="459.57" cy="654.99" r="2.8000000000000003" fill="#d93839" stroke="#d62728" stroke-width="0.6"/><circle cx="485.29" cy="664.35" r="2.8000000000000003" fill="#d93839" stroke="#d62728" stroke-width="0.6"/><circle cx="511" cy="664.35" r="2.8000000000000003" fill="#d93839" stroke="#d62728" stroke-width="0.6"/><rect x="322" y="497.3" width="198" height="175" fill="none" stroke="#000" stroke-width="1.35"/><line x1="316.2" y1="664.35" x2="322" y2="664.35" stroke="#000" stroke-width="1.35"/><text x="311" y="671.15" font-size="17.2" text-anchor="end">0</text><line x1="316.2" y1="617.55" x2="322" y2="617.55" stroke="#000" stroke-width="1.35"/><text x="311" y="624.35" font-size="17.2" text-anchor="end">20</text><line x1="316.2" y1="570.76" x2="322" y2="570.76" stroke="#000" stroke-width="1.35"/><text x="311" y="577.56" font-size="17.2" text-anchor="end">40</text><line x1="316.2" y1="523.97" x2="322" y2="523.97" stroke="#000" stroke-width="1.35"/><text x="311" y="530.77" font-size="17.2" text-anchor="end">60</text><line x1="331" y1="672.3" x2="331" y2="678.1" stroke="#000" stroke-width="1.35"/><text x="331" y="696.5" font-size="17.2" text-anchor="middle">1</text><line x1="356.71" y1="672.3" x2="356.71" y2="678.1" stroke="#000" stroke-width="1.35"/><text x="356.71" y="696.5" font-size="17.2" text-anchor="middle">3</text><line x1="382.43" y1="672.3" x2="382.43" y2="678.1" stroke="#000" stroke-width="1.35"/><text x="382.43" y="696.5" font-size="17.2" text-anchor="middle">5</text><line x1="408.14" y1="672.3" x2="408.14" y2="678.1" stroke="#000" stroke-width="1.35"/><text x="408.14" y="696.5" font-size="17.2" text-anchor="middle">7</text><line x1="433.86" y1="672.3" x2="433.86" y2="678.1" stroke="#000" stroke-width="1.35"/><text x="433.86" y="696.5" font-size="17.2" text-anchor="middle">9</text><line x1="459.57" y1="672.3" x2="459.57" y2="678.1" stroke="#000" stroke-width="1.35"/><text x="459.57" y="696.5" font-size="17.2" text-anchor="middle">11</text><line x1="485.29" y1="672.3" x2="485.29" y2="678.1" stroke="#000" stroke-width="1.35"/><text x="485.29" y="696.5" font-size="17.2" text-anchor="middle">13</text><line x1="511" y1="672.3" x2="511" y2="678.1" stroke="#000" stroke-width="1.35"/><text x="511" y="696.5" font-size="17.2" text-anchor="middle">15</text><text x="421" y="722.3" font-size="21.9" text-anchor="middle"># Irrelevant Context</text><text x="421" y="488.2" font-size="20.4" text-anchor="middle">PAcc (GPT-4o-mini)</text></g>
<g><line x1="583.8" y1="630.85" x2="781.8" y2="630.85" stroke="#cfcfcf" stroke-width="1.0" stroke-dasharray="2.88 1.24"/><line x1="583.8" y1="588.99" x2="781.8" y2="588.99" stroke="#cfcfcf" stroke-width="1.0" stroke-dasharray="2.88 1.24"/><line x1="583.8" y1="547.12" x2="781.8" y2="547.12" stroke="#cfcfcf" stroke-width="1.0" stroke-dasharray="2.88 1.24"/><line x1="583.8" y1="505.25" x2="781.8" y2="505.25" stroke="#cfcfcf" stroke-width="1.0" stroke-dasharray="2.88 1.24"/><polyline points="592.8,505.25 618.51,530.37 644.23,513.63 669.94,547.12 695.66,547.12 721.37,563.87 747.09,530.37 772.8,555.49" fill="none" stroke="#1f77b4" stroke-opacity="0.93" stroke-width="2.5" stroke-linejoin="round" stroke-linecap="round"/><circle cx="592.8" cy="505.25" r="2.8000000000000003" fill="#3182ba" stroke="#1f77b4" stroke-width="0.6"/><circle cx="618.51" cy="530.37" r="2.8000000000000003" fill="#3182ba" stroke="#1f77b4" stroke-width="0.6"/><circle cx="644.23" cy="513.63" r="2.8000000000000003" fill="#3182ba" stroke="#1f77b4" stroke-width="0.6"/><circle cx="669.94" cy="547.12" r="2.8000000000000003" fill="#3182ba" stroke="#1f77b4" stroke-width="0.6"/><circle cx="695.66" cy="547.12" r="2.8000000000000003" fill="#3182ba" stroke="#1f77b4" stroke-width="0.6"/><circle cx="721.37" cy="563.87" r="2.8000000000000003" fill="#3182ba" stroke="#1f77b4" stroke-width="0.6"/><circle cx="747.09" cy="530.37" r="2.8000000000000003" fill="#3182ba" stroke="#1f77b4" stroke-width="0.6"/><circle cx="772.8" cy="555.49" r="2.8000000000000003" fill="#3182ba" stroke="#1f77b4" stroke-width="0.6"/><polyline points="592.8,555.49 618.51,522 644.23,588.99 669.94,547.12 695.66,580.61 721.37,572.24 747.09,647.6 772.8,622.48" fill="none" stroke="#2ca02c" stroke-opacity="0.93" stroke-width="2.5" stroke-linejoin="round" stroke-linecap="round"/><circle cx="592.8" cy="555.49" r="2.8000000000000003" fill="#3da83d" stroke="#2ca02c" stroke-width="0.6"/><circle cx="618.51" cy="522" r="2.8000000000000003" fill="#3da83d" stroke="#2ca02c" stroke-width="0.6"/><circle cx="644.23" cy="588.99" r="2.8000000000000003" fill="#3da83d" stroke="#2ca02c" stroke-width="0.6"/><circle cx="669.94" cy="547.12" r="2.8000000000000003" fill="#3da83d" stroke="#2ca02c" stroke-width="0.6"/><circle cx="695.66" cy="580.61" r="2.8000000000000003" fill="#3da83d" stroke="#2ca02c" stroke-width="0.6"/><circle cx="721.37" cy="572.24" r="2.8000000000000003" fill="#3da83d" stroke="#2ca02c" stroke-width="0.6"/><circle cx="747.09" cy="647.6" r="2.8000000000000003" fill="#3da83d" stroke="#2ca02c" stroke-width="0.6"/><circle cx="772.8" cy="622.48" r="2.8000000000000003" fill="#3da83d" stroke="#2ca02c" stroke-width="0.6"/><polyline points="592.8,513.63 618.51,588.99 644.23,614.11 669.94,588.99 695.66,630.85 721.37,597.36 747.09,639.23 772.8,647.6" fill="none" stroke="#ff7f0e" stroke-opacity="0.93" stroke-width="2.5" stroke-linejoin="round" stroke-linecap="round"/><circle cx="592.8" cy="513.63" r="2.8000000000000003" fill="#ff8921" stroke="#ff7f0e" stroke-width="0.6"/><circle cx="618.51" cy="588.99" r="2.8000000000000003" fill="#ff8921" stroke="#ff7f0e" stroke-width="0.6"/><circle cx="644.23" cy="614.11" r="2.8000000000000003" fill="#ff8921" stroke="#ff7f0e" stroke-width="0.6"/><circle cx="669.94" cy="588.99" r="2.8000000000000003" fill="#ff8921" stroke="#ff7f0e" stroke-width="0.6"/><circle cx="695.66" cy="630.85" r="2.8000000000000003" fill="#ff8921" stroke="#ff7f0e" stroke-width="0.6"/><circle cx="721.37" cy="597.36" r="2.8000000000000003" fill="#ff8921" stroke="#ff7f0e" stroke-width="0.6"/><circle cx="747.09" cy="639.23" r="2.8000000000000003" fill="#ff8921" stroke="#ff7f0e" stroke-width="0.6"/><circle cx="772.8" cy="647.6" r="2.8000000000000003" fill="#ff8921" stroke="#ff7f0e" stroke-width="0.6"/><polyline points="592.8,522 618.51,572.24 644.23,588.99 669.94,597.36 695.66,597.36 721.37,572.24 747.09,664.35 772.8,597.36" fill="none" stroke="#d62728" stroke-opacity="0.93" stroke-width="2.5" stroke-linejoin="round" stroke-linecap="round"/><circle cx="592.8" cy="522" r="2.8000000000000003" fill="#d93839" stroke="#d62728" stroke-width="0.6"/><circle cx="618.51" cy="572.24" r="2.8000000000000003" fill="#d93839" stroke="#d62728" stroke-width="0.6"/><circle cx="644.23" cy="588.99" r="2.8000000000000003" fill="#d93839" stroke="#d62728" stroke-width="0.6"/><circle cx="669.94" cy="597.36" r="2.8000000000000003" fill="#d93839" stroke="#d62728" stroke-width="0.6"/><circle cx="695.66" cy="597.36" r="2.8000000000000003" fill="#d93839" stroke="#d62728" stroke-width="0.6"/><circle cx="721.37" cy="572.24" r="2.8000000000000003" fill="#d93839" stroke="#d62728" stroke-width="0.6"/><circle cx="747.09" cy="664.35" r="2.8000000000000003" fill="#d93839" stroke="#d62728" stroke-width="0.6"/><circle cx="772.8" cy="597.36" r="2.8000000000000003" fill="#d93839" stroke="#d62728" stroke-width="0.6"/><rect x="583.8" y="497.3" width="198" height="175" fill="none" stroke="#000" stroke-width="1.35"/><line x1="578" y1="630.85" x2="583.8" y2="630.85" stroke="#000" stroke-width="1.35"/><text x="572.8" y="637.65" font-size="17.2" text-anchor="end">50</text><line x1="578" y1="588.99" x2="583.8" y2="588.99" stroke="#000" stroke-width="1.35"/><text x="572.8" y="595.79" font-size="17.2" text-anchor="end">60</text><line x1="578" y1="547.12" x2="583.8" y2="547.12" stroke="#000" stroke-width="1.35"/><text x="572.8" y="553.92" font-size="17.2" text-anchor="end">70</text><line x1="578" y1="505.25" x2="583.8" y2="505.25" stroke="#000" stroke-width="1.35"/><text x="572.8" y="512.05" font-size="17.2" text-anchor="end">80</text><line x1="592.8" y1="672.3" x2="592.8" y2="678.1" stroke="#000" stroke-width="1.35"/><text x="592.8" y="696.5" font-size="17.2" text-anchor="middle">1</text><line x1="618.51" y1="672.3" x2="618.51" y2="678.1" stroke="#000" stroke-width="1.35"/><text x="618.51" y="696.5" font-size="17.2" text-anchor="middle">3</text><line x1="644.23" y1="672.3" x2="644.23" y2="678.1" stroke="#000" stroke-width="1.35"/><text x="644.23" y="696.5" font-size="17.2" text-anchor="middle">5</text><line x1="669.94" y1="672.3" x2="669.94" y2="678.1" stroke="#000" stroke-width="1.35"/><text x="669.94" y="696.5" font-size="17.2" text-anchor="middle">7</text><line x1="695.66" y1="672.3" x2="695.66" y2="678.1" stroke="#000" stroke-width="1.35"/><text x="695.66" y="696.5" font-size="17.2" text-anchor="middle">9</text><line x1="721.37" y1="672.3" x2="721.37" y2="678.1" stroke="#000" stroke-width="1.35"/><text x="721.37" y="696.5" font-size="17.2" text-anchor="middle">11</text><line x1="747.09" y1="672.3" x2="747.09" y2="678.1" stroke="#000" stroke-width="1.35"/><text x="747.09" y="696.5" font-size="17.2" text-anchor="middle">13</text><line x1="772.8" y1="672.3" x2="772.8" y2="678.1" stroke="#000" stroke-width="1.35"/><text x="772.8" y="696.5" font-size="17.2" text-anchor="middle">15</text><text x="682.8" y="722.3" font-size="21.9" text-anchor="middle"># Irrelevant Context</text><text x="682.8" y="488.2" font-size="20.4" text-anchor="middle">EAcc (GPT-4o-mini)</text></g>
</svg>
</body></html>
